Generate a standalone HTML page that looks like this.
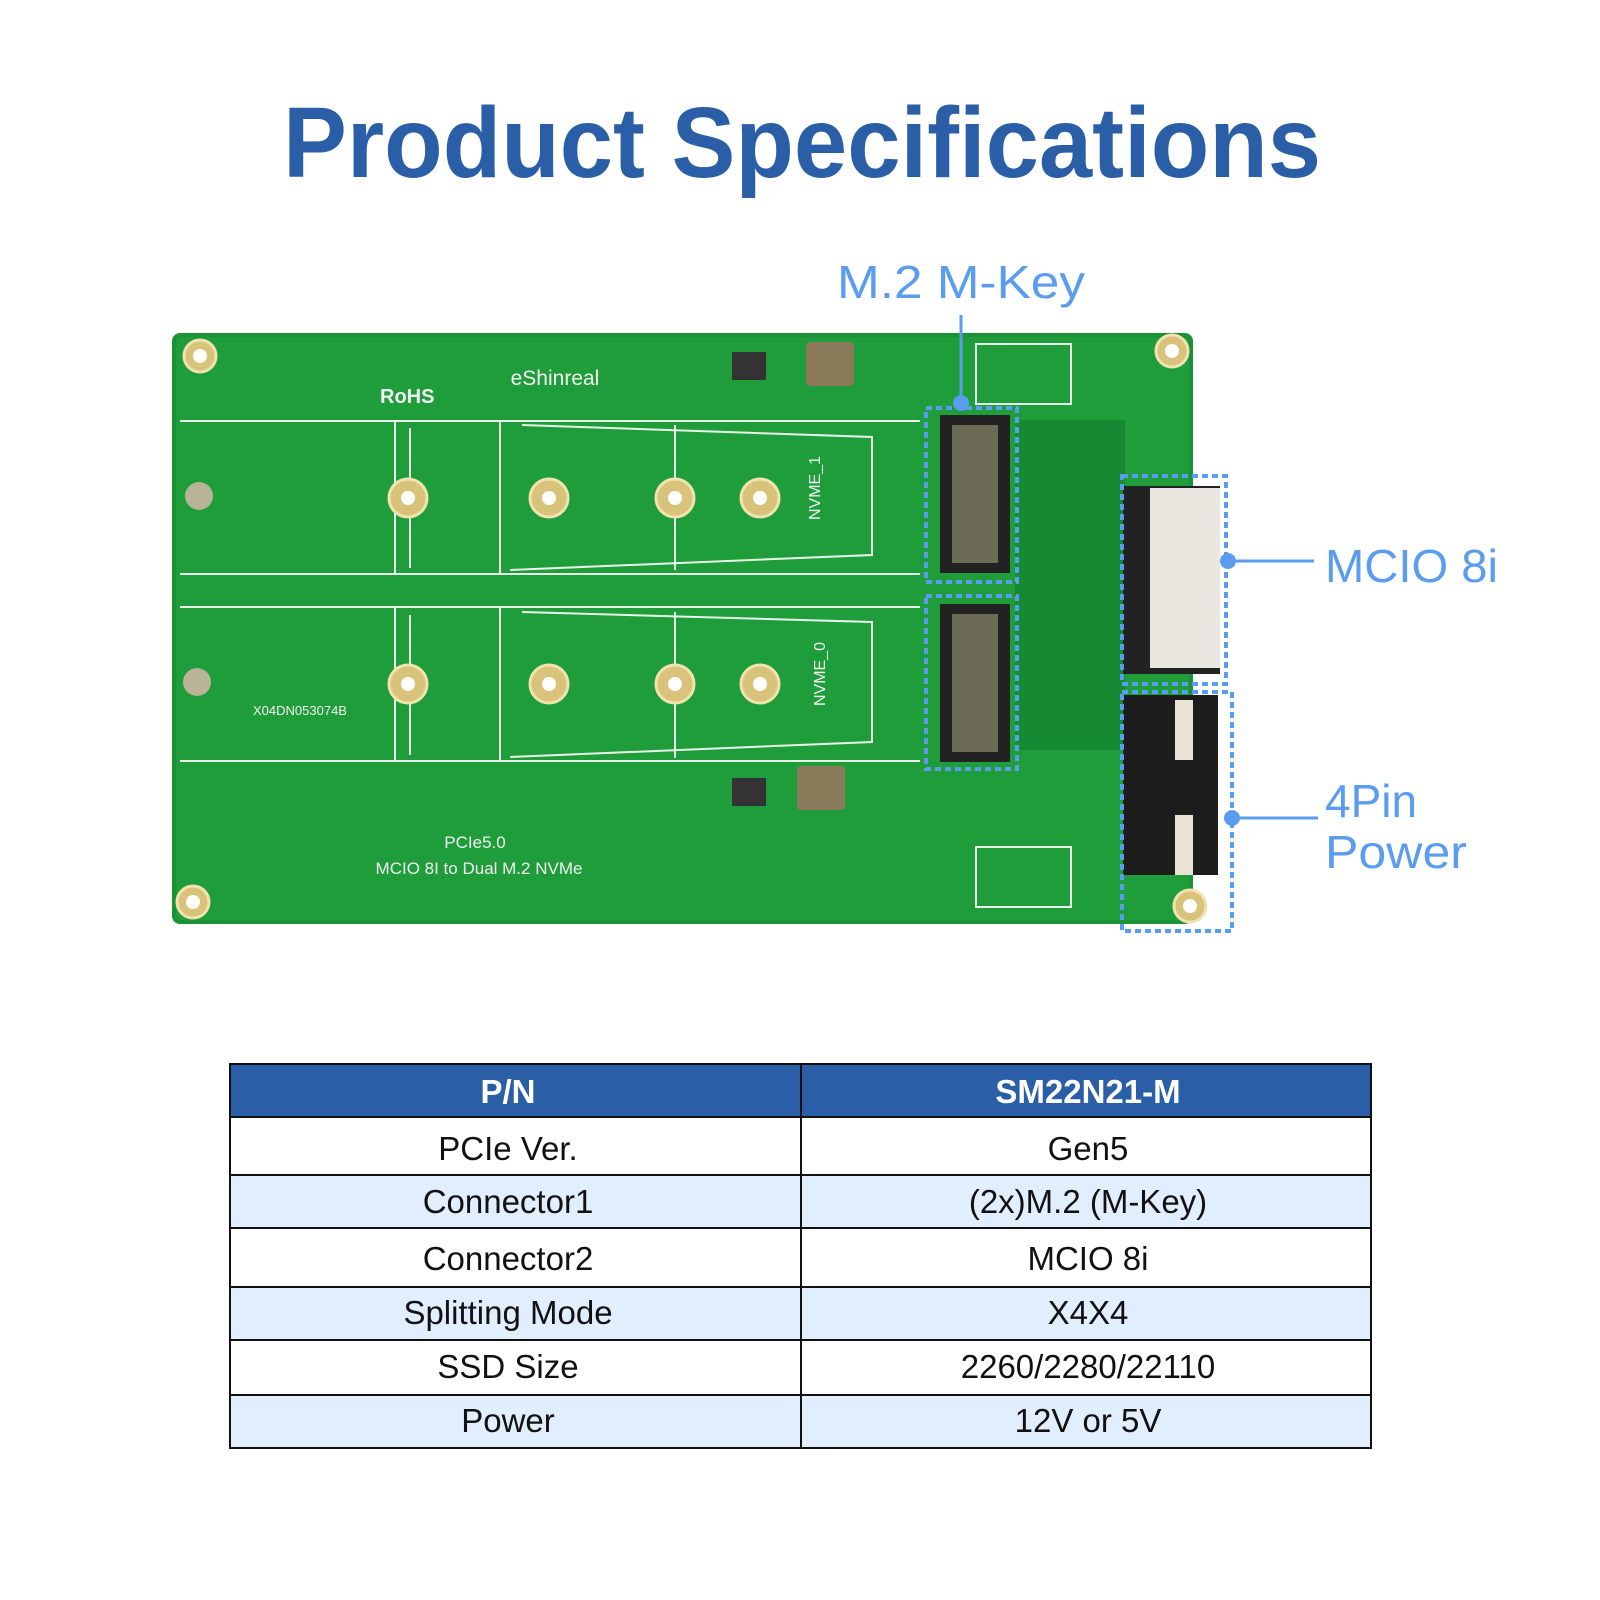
<!DOCTYPE html>
<html><head><meta charset="utf-8"><style>
html,body{margin:0;padding:0;background:#fff;}
svg{display:block}
</style></head><body>
<svg width="1600" height="1600" viewBox="0 0 1600 1600" xmlns="http://www.w3.org/2000/svg" font-family="Liberation Sans, sans-serif">
<rect width="1600" height="1600" fill="#fff"/>
<text x="802" y="177" text-anchor="middle" font-size="100" font-weight="bold" fill="#2a5fa8" textLength="1038" lengthAdjust="spacingAndGlyphs">Product Specifications</text>

<!-- PCB -->
<rect x="172" y="333" width="1021" height="591" rx="8" fill="#1a9236"/>
<rect x="176" y="337" width="1013" height="583" rx="6" fill="#1f9d3b"/>
<rect x="1015" y="420" width="110" height="330" fill="#168a32"/>
<!-- slots -->
<g stroke="#e8f5e8" stroke-width="2" fill="none">
<line x1="180" y1="421" x2="920" y2="421"/><line x1="180" y1="574" x2="920" y2="574"/>
<line x1="180" y1="607" x2="920" y2="607"/><line x1="180" y1="761" x2="920" y2="761"/>
<line x1="395" y1="421" x2="395" y2="574"/><line x1="395" y1="607" x2="395" y2="761"/>
<line x1="500" y1="421" x2="500" y2="574"/><line x1="500" y1="607" x2="500" y2="761"/>
<line x1="675" y1="425" x2="675" y2="570"/><line x1="675" y1="612" x2="675" y2="758"/>
<polyline points="522,425 872,437 872,555 510,570"/>
<polyline points="522,612 872,622 872,742 510,757"/>
<line x1="410" y1="428" x2="410" y2="568"/><line x1="410" y1="615" x2="410" y2="755"/>
</g>
<!-- holes -->
<g fill="#d9c27a" stroke="#f1e3b0" stroke-width="3">
<circle cx="408" cy="498" r="19"/><circle cx="549" cy="498" r="19"/><circle cx="675" cy="498" r="19"/><circle cx="760" cy="498" r="19"/>
<circle cx="408" cy="684" r="19"/><circle cx="549" cy="684" r="19"/><circle cx="675" cy="684" r="19"/><circle cx="760" cy="684" r="19"/>
<circle cx="200" cy="356" r="16"/><circle cx="1172" cy="351" r="16"/><circle cx="193" cy="902" r="16"/><circle cx="1190" cy="906" r="16"/>
</g>
<g fill="#fff"><circle cx="408" cy="498" r="7"/><circle cx="549" cy="498" r="7"/><circle cx="675" cy="498" r="7"/><circle cx="760" cy="498" r="7"/>
<circle cx="408" cy="684" r="7"/><circle cx="549" cy="684" r="7"/><circle cx="675" cy="684" r="7"/><circle cx="760" cy="684" r="7"/>
<circle cx="200" cy="356" r="7"/><circle cx="1172" cy="351" r="7"/><circle cx="193" cy="902" r="7"/><circle cx="1190" cy="906" r="7"/></g>
<circle cx="199" cy="496" r="14" fill="#b9b39a"/><circle cx="197" cy="682" r="14" fill="#b9b39a"/>
<!-- pads/components -->
<g fill="#333"><rect x="732" y="352" width="34" height="28"/><rect x="732" y="778" width="34" height="28"/></g>
<g fill="#8a7a5a"><rect x="806" y="342" width="48" height="44" rx="4"/><rect x="797" y="766" width="48" height="44" rx="4"/></g>
<g fill="none" stroke="#e8f5e8" stroke-width="2"><rect x="976" y="344" width="95" height="60"/><rect x="976" y="847" width="95" height="60"/></g>
<!-- M.2 connectors -->
<rect x="940" y="415" width="70" height="158" fill="#222"/><rect x="952" y="425" width="46" height="138" fill="#6b6b55"/>
<rect x="940" y="604" width="70" height="158" fill="#222"/><rect x="952" y="614" width="46" height="138" fill="#6b6b55"/>
<!-- MCIO -->
<rect x="1123" y="486" width="97" height="188" fill="#222"/><rect x="1150" y="488" width="70" height="180" fill="#e9e7df"/>
<!-- 4pin -->
<rect x="1123" y="695" width="95" height="180" fill="#1d1d1d"/><rect x="1175" y="700" width="18" height="60" fill="#e8e3d5"/><rect x="1175" y="815" width="18" height="60" fill="#e8e3d5"/>
<!-- PCB text -->
<g fill="#f2f2f2">
<text x="555" y="385" text-anchor="middle" font-size="21">eShinreal</text>
<text x="475" y="848" text-anchor="middle" font-size="17">PCIe5.0</text>
<text x="479" y="874" text-anchor="middle" font-size="17">MCIO 8I to Dual M.2 NVMe</text>
<text x="300" y="715" text-anchor="middle" font-size="13">X04DN053074B</text>
<text x="380" y="403" font-size="20" font-weight="bold">RoHS</text>
<text x="820" y="520" font-size="16" transform="rotate(-90 820 520)">NVME_1</text>
<text x="825" y="706" font-size="16" transform="rotate(-90 825 706)">NVME_0</text>
</g>
<!-- dashed boxes -->
<g fill="none" stroke="#5a9cf0" stroke-width="4" stroke-dasharray="6 4">
<rect x="926" y="408" width="91" height="174"/><rect x="926" y="596" width="91" height="173"/>
<rect x="1122" y="476" width="104" height="208"/><rect x="1122" y="692" width="110" height="239"/>
</g>
<g stroke="#5a9cf0" stroke-width="3"><line x1="961" y1="315" x2="961" y2="403"/><line x1="1228" y1="561" x2="1314" y2="561"/><line x1="1232" y1="818" x2="1318" y2="818"/></g>
<g fill="#5a9cf0"><circle cx="961" cy="403" r="8"/><circle cx="1228" cy="561" r="8"/><circle cx="1232" cy="818" r="8"/></g>
<g fill="#5a9cf0" font-size="46">
<text x="837" y="298" textLength="248" lengthAdjust="spacingAndGlyphs">M.2 M-Key</text>
<text x="1325" y="582" textLength="173" lengthAdjust="spacingAndGlyphs">MCIO 8i</text>
<text x="1325" y="817">4Pin</text>
<text x="1325" y="868" textLength="142" lengthAdjust="spacingAndGlyphs">Power</text>
</g>

<!-- table -->
<rect x="230" y="1064" width="1141" height="53" fill="#2a5fa8"/>
<g fill="#e1eefd"><rect x="230" y="1175" width="1141" height="53"/><rect x="230" y="1287" width="1141" height="53"/><rect x="230" y="1395" width="1141" height="53"/></g>
<g stroke="#111" stroke-width="2" fill="none">
<rect x="230" y="1064" width="1141" height="384"/>
<line x1="801" y1="1064" x2="801" y2="1448"/>
<line x1="230" y1="1117" x2="1371" y2="1117"/><line x1="230" y1="1175" x2="1371" y2="1175"/>
<line x1="230" y1="1228" x2="1371" y2="1228"/><line x1="230" y1="1287" x2="1371" y2="1287"/>
<line x1="230" y1="1340" x2="1371" y2="1340"/><line x1="230" y1="1395" x2="1371" y2="1395"/>
</g>
<g font-size="33" text-anchor="middle" fill="#111">
<text x="508" y="1103" fill="#fff" font-weight="bold">P/N</text><text x="1088" y="1103" fill="#fff" font-weight="bold">SM22N21-M</text>
<text x="508" y="1160">PCIe Ver.</text><text x="1088" y="1160">Gen5</text>
<text x="508" y="1213">Connector1</text><text x="1088" y="1213">(2x)M.2 (M-Key)</text>
<text x="508" y="1270">Connector2</text><text x="1088" y="1270">MCIO 8i</text>
<text x="508" y="1324">Splitting Mode</text><text x="1088" y="1324">X4X4</text>
<text x="508" y="1378">SSD Size</text><text x="1088" y="1378">2260/2280/22110</text>
<text x="508" y="1432">Power</text><text x="1088" y="1432">12V or 5V</text>
</g>
</svg>
</body></html>
